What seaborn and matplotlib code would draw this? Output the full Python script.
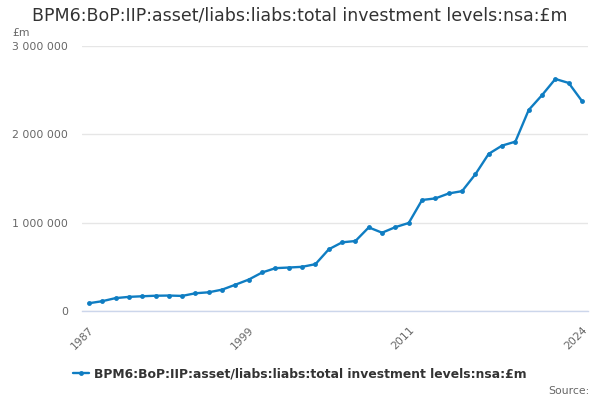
import matplotlib
matplotlib.use("Agg")
import matplotlib.pyplot as plt
import pandas as pd
import seaborn as sns

years = list(range(1987, 2025))
values = [90000, 113000, 148000, 162000, 169000, 175000, 177000, 173000, 203000, 214000,
          244000, 300000, 358000, 438000, 487000, 494000, 502000, 532000, 700000, 779000,
          794000, 948000, 888000, 951000, 998000, 1258000, 1276000, 1332000, 1358000, 1549000,
          1780000, 1873000, 1918000, 2276000, 2444000, 2627000, 2582000, 2377000]
series_name = "BPM6:BoP:IIP:asset/liabs:liabs:total investment levels:nsa:£m"
tick_years = [1987, 1990, 1993, 1996, 1999, 2002, 2005, 2008, 2011, 2014, 2017, 2020, 2024]
label_years = [1987, 1999, 2011, 2024]
y_ticks = [0, 1000000, 2000000, 3000000]

df = pd.DataFrame({"year": years, "value": values})

sns.set_theme(style="white")
plt.rcParams["font.family"] = ["DejaVu Sans"]

fig = plt.figure(figsize=(6, 4), dpi=100)
ax = fig.add_axes([0.137, 0.222, 0.843, 0.663])
blue = "#0f7dc2"
sns.lineplot(data=df, x="year", y="value", ax=ax, color=blue, linewidth=1.7,
             marker="o", markersize=3.5, markeredgewidth=0, label=series_name)

ax.set_xlim(1986.5, 2024.45)
ax.set_ylim(0, 3000000)
ax.set_yticks(y_ticks)
ax.set_yticklabels([f"{v:,}".replace(",", " ") for v in y_ticks], color="#666666", fontsize=7.8)
ax.set_xticks(tick_years)
ax.set_xticklabels([str(y) if y in label_years else "" for y in tick_years],
                   rotation=45, ha="right", rotation_mode="anchor", color="#666666", fontsize=7.8)
ax.tick_params(axis="x", length=8, width=1, color="#ccd6eb", pad=2)
ax.tick_params(axis="y", length=0, pad=10)
ax.grid(axis="y", color="#e6e6e6", linewidth=1)
ax.set_xlabel("")
ax.set_ylabel("")
for s in ["top", "right", "left"]:
    ax.spines[s].set_visible(False)
ax.spines["bottom"].set_color("#ccd6eb")
ax.spines["bottom"].set_linewidth(1)

fig.suptitle(series_name, x=0.5, y=0.985, fontsize=12.5, color="#333333")
fig.text(0.02, 0.91, "£m", fontsize=7.8, color="#666666")
handles, labels = ax.get_legend_handles_labels()
ax.get_legend().remove()
leg = fig.legend(handles, labels, loc="center", bbox_to_anchor=(0.5, 0.065), frameon=False,
                 handlelength=1.3, handletextpad=0.4, fontsize=8.9)
for t in leg.get_texts():
    t.set_fontweight("bold")
    t.set_color("#333333")
fig.text(0.982, 0.015, "Source:", ha="right", fontsize=7.8, color="#666666")

fig.savefig("out.png", dpi=100)
